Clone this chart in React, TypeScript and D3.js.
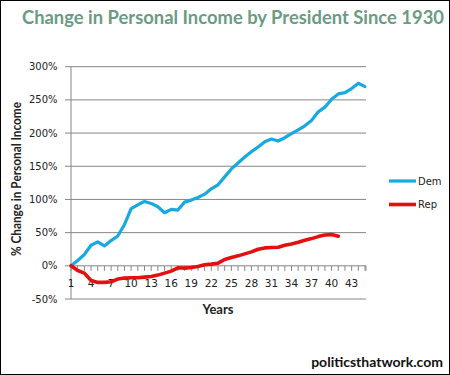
import React from "react";
import * as d3 from "d3";

const TITLE = "Change in Personal Income by President Since 1930";
const Y_TITLE = "% Change in Personal Income";
const X_TITLE = "Years";
const WATERMARK = "politicsthatwork.com";

const yTicks = [-50, 0, 50, 100, 150, 200, 250, 300];
const xLabelEvery = 3;
const categoryCount = 45;

const demValues = [
  0, 8, 17, 31, 36, 30, 38, 45, 62, 86, 92, 97, 94, 89, 80, 85, 84, 96, 99, 103,
  108, 116, 122, 134, 146, 155, 164, 172, 179, 187, 191, 188, 193, 199, 205, 211,
  219, 232, 239, 251, 259, 261, 267, 275, 270,
];
const repValues = [
  0, -7, -11, -22, -25, -25, -24, -20, -18.5, -18, -18, -17, -16, -14, -11, -8,
  -3, -3.5, -2.5, -1, 1.5, 2.5, 4, 9.5, 12.5, 15, 18, 21, 25, 27, 27.5, 28, 31,
  33, 35.5, 38.5, 41, 44, 46.5, 47, 44.5,
];

const seriesNames = ["Dem", "Rep"];
const seriesColors = ["#19a9e1", "#e3100f"];
const seriesWidths = [3.2, 3.6];

export default function App() {
  const W = 450;
  const H = 375;
  const left = 71;
  const right = 365;
  const top = 66.7;
  const bottom = 299;

  const x = d3.scaleLinear().domain([1, categoryCount]).range([left, right]);
  const y = d3.scaleLinear().domain([-50, 300]).range([bottom, top]);

  const line = d3
    .line<number>()
    .x((_, i) => x(i + 1))
    .y((d) => y(d))
    .curve(d3.curveLinear);

  const cats = d3.range(1, categoryCount + 1);
  const axisY = y(0);
  const series = [demValues, repValues];

  return (
    <svg
      width={W}
      height={H}
      style={{ position: "absolute", left: 0, top: 0, background: "#fff" }}
    >
      <rect x={0.5} y={0.5} width={W - 1} height={H - 1} fill="#fff" stroke="#000" />
      <text
        x={233}
        y={24}
        textAnchor="middle"
        fontFamily="Lato, 'Open Sans', sans-serif"
        fontWeight="bold"
        fontSize={18.5}
        fill="#6b9b84"
        textLength={422}
        lengthAdjust="spacingAndGlyphs"
      >
        {TITLE}
      </text>

      {yTicks.map((t) => (
        <g key={t}>
          <line x1={left} x2={right + 1} y1={y(t)} y2={y(t)} stroke="#868686" strokeWidth={1} />
          <line x1={left - 6} x2={left} y1={y(t)} y2={y(t)} stroke="#868686" strokeWidth={1} />
          <text
            x={57.5}
            y={y(t)}
            dy="0.35em"
            textAnchor="end"
            fontFamily="'DejaVu Sans', sans-serif"
            fontSize={10}
            fill="#222"
          >
            {t + "%"}
          </text>
        </g>
      ))}
      <line x1={left} x2={left} y1={top} y2={bottom} stroke="#868686" />

      {cats.map((c) => (
        <line key={c} x1={x(c)} x2={x(c)} y1={axisY} y2={axisY + 5} stroke="#868686" />
      ))}
      <line x1={right + 1} x2={right + 1} y1={axisY} y2={axisY + 5} stroke="#868686" />
      {cats
        .filter((c) => (c - 1) % xLabelEvery === 0)
        .map((c) => (
          <text
            key={c}
            x={x(c)}
            y={287}
            textAnchor="middle"
            fontFamily="'DejaVu Sans', sans-serif"
            fontSize={10.5}
            fill="#222"
          >
            {c}
          </text>
        ))}

      {series.map((vals, i) => (
        <path
          key={seriesNames[i]}
          d={line(vals) || ""}
          fill="none"
          stroke={seriesColors[i]}
          strokeWidth={seriesWidths[i]}
          strokeLinejoin="round"
          strokeLinecap="round"
        />
      ))}

      <text
        x={218}
        y={314}
        textAnchor="middle"
        fontFamily="Lato, 'Open Sans', sans-serif"
        fontWeight="bold"
        fontSize={13}
        fill="#222"
      >
        {X_TITLE}
      </text>
      <text
        transform={`translate(21,179) rotate(-90)`}
        textAnchor="middle"
        fontFamily="Lato, 'Open Sans', sans-serif"
        fontWeight="bold"
        fontSize={12.5}
        fill="#222"
        textLength={154}
        lengthAdjust="spacingAndGlyphs"
      >
        {Y_TITLE}
      </text>

      {seriesNames.map((n, i) => (
        <g key={n} transform={`translate(0, ${181 + i * 23.5})`}>
          <line x1={389} x2={416} y1={0} y2={0} stroke={seriesColors[i]} strokeWidth={seriesWidths[i]} />
          <text
            x={418}
            y={0}
            dy="0.35em"
            fontFamily="'DejaVu Sans', sans-serif"
            fontSize={10}
            fill="#222"
          >
            {n}
          </text>
        </g>
      ))}

      <text
        x={443}
        y={367}
        textAnchor="end"
        fontFamily="Lato, 'Open Sans', sans-serif"
        fontWeight="bold"
        fontSize={14}
        fill="#111"
      >
        {WATERMARK}
      </text>
    </svg>
  );
}
